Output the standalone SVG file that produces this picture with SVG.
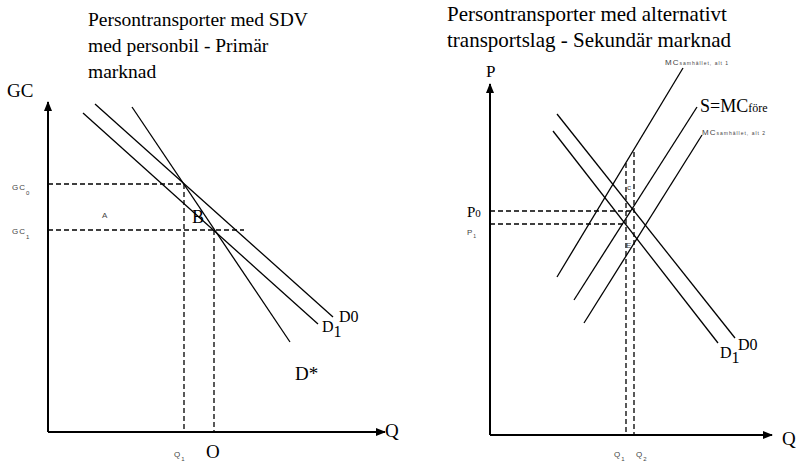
<svg xmlns="http://www.w3.org/2000/svg" width="796" height="467" viewBox="0 0 796 467">
<style>
.t{font-family:"Liberation Serif",serif;fill:#000}
.s{font-family:"Liberation Sans",sans-serif;fill:#444;font-size:8px;letter-spacing:1px}
.ax{stroke:#000;stroke-width:2;fill:none}
.ln{stroke:#000;stroke-width:1.3;fill:none}
.da{stroke:#000;stroke-width:1.3;fill:none;stroke-dasharray:5,3}
</style>
<defs>
<marker id="ar" markerWidth="10" markerHeight="10" refX="9" refY="5" orient="auto" markerUnits="userSpaceOnUse">
<path d="M0,1 L10,5 L0,9 Z" fill="#000"/>
</marker>
</defs>
<rect width="796" height="467" fill="#fff"/>
<g id="titles">
<text class="t" x="88" y="26" font-size="19.5">Persontransporter med SDV</text>
<text class="t" x="88" y="52" font-size="19.5">med personbil - Primär</text>
<text class="t" x="88" y="78" font-size="19.5">marknad</text>
<text class="t" x="447" y="21" font-size="21">Persontransporter med alternativt</text>
<text class="t" x="447" y="47" font-size="21">transportslag - Sekundär marknad</text>
</g>
<g id="left-axes">
<line class="ax" x1="48" y1="432" x2="48" y2="102" marker-end="url(#ar)"/>
<line class="ax" x1="48" y1="432" x2="385" y2="432" marker-end="url(#ar)"/>
<text class="t" x="7" y="97" font-size="19">GC</text>
<text class="t" x="385" y="437" font-size="19">Q</text>
</g>
<g id="right-axes">
<line class="ax" x1="490" y1="435" x2="490" y2="84" marker-end="url(#ar)"/>
<line class="ax" x1="490" y1="435" x2="772" y2="435" marker-end="url(#ar)"/>
<text class="t" x="486" y="77" font-size="17">P</text>
<text class="t" x="782" y="445" font-size="19">Q</text>
</g>
<g id="connectors">
<line class="ln" x1="83" y1="113" x2="318" y2="324"/>
<line class="ln" x1="95" y1="104" x2="333" y2="317"/>
<line class="ln" x1="132" y1="107" x2="290" y2="342"/>
<line class="da" x1="48" y1="184" x2="184" y2="184"/>
<line class="da" x1="48" y1="230" x2="244" y2="230"/>
<line class="da" x1="184" y1="184" x2="184" y2="432"/>
<line class="da" x1="214" y1="230" x2="214" y2="432"/>
<line class="ln" x1="557" y1="277" x2="683" y2="68"/>
<line class="ln" x1="574" y1="300" x2="697" y2="107"/>
<line class="ln" x1="584" y1="323" x2="702" y2="135"/>
<line class="ln" x1="557" y1="114" x2="735" y2="338"/>
<line class="ln" x1="553" y1="131" x2="718" y2="343"/>
<line class="da" x1="490" y1="211" x2="634" y2="211"/>
<line class="da" x1="490" y1="224" x2="626" y2="224"/>
<line class="da" x1="634" y1="152" x2="634" y2="435"/>
<line class="da" x1="626" y1="163" x2="626" y2="435"/>
</g>
<g id="left-labels">
<text class="s" x="12" y="190">GC<tspan font-size="6" dy="5">0</tspan></text>
<text class="s" x="12" y="234">GC<tspan font-size="6" dy="5">1</tspan></text>
<text class="s" x="102" y="218">A</text>
<text class="t" x="192" y="223" font-size="18">B</text>
<text class="s" x="174" y="457">Q<tspan font-size="6" dy="4">1</tspan></text>
<text class="t" x="206" y="458" font-size="19">O</text>
<text class="t" x="322" y="332" font-size="16">D<tspan dy="5">1</tspan></text>
<text class="t" x="339" y="322" font-size="16">D0</text>
<text class="t" x="295" y="380" font-size="19">D*</text>
</g>
<g id="right-labels">
<text class="t" x="467" y="217" font-size="15">P<tspan font-size="11">0</tspan></text>
<text class="s" x="467" y="235" font-size="7">P<tspan font-size="5" dy="3">1</tspan></text>
<text class="s" x="665" y="65" font-size="8">MC<tspan font-size="5">samhället, alt 1</tspan></text>
<text class="t" x="700" y="112" font-size="18">S=MC<tspan font-size="12">före</tspan></text>
<text class="s" x="702" y="135" font-size="8">MC<tspan font-size="5">samhället, alt 2</tspan></text>
<text class="s" x="627" y="190" font-size="7" fill="#777">c</text>
<text class="s" x="626" y="248" font-size="7" fill="#777">E</text>
<text class="s" x="614" y="457">Q<tspan font-size="6" dy="4">1</tspan></text>
<text class="s" x="636" y="457">Q<tspan font-size="6" dy="4">2</tspan></text>
<text class="t" x="720" y="358" font-size="16">D<tspan dy="5">1</tspan></text>
<text class="t" x="738" y="350" font-size="16">D0</text>
</g>
</svg>
